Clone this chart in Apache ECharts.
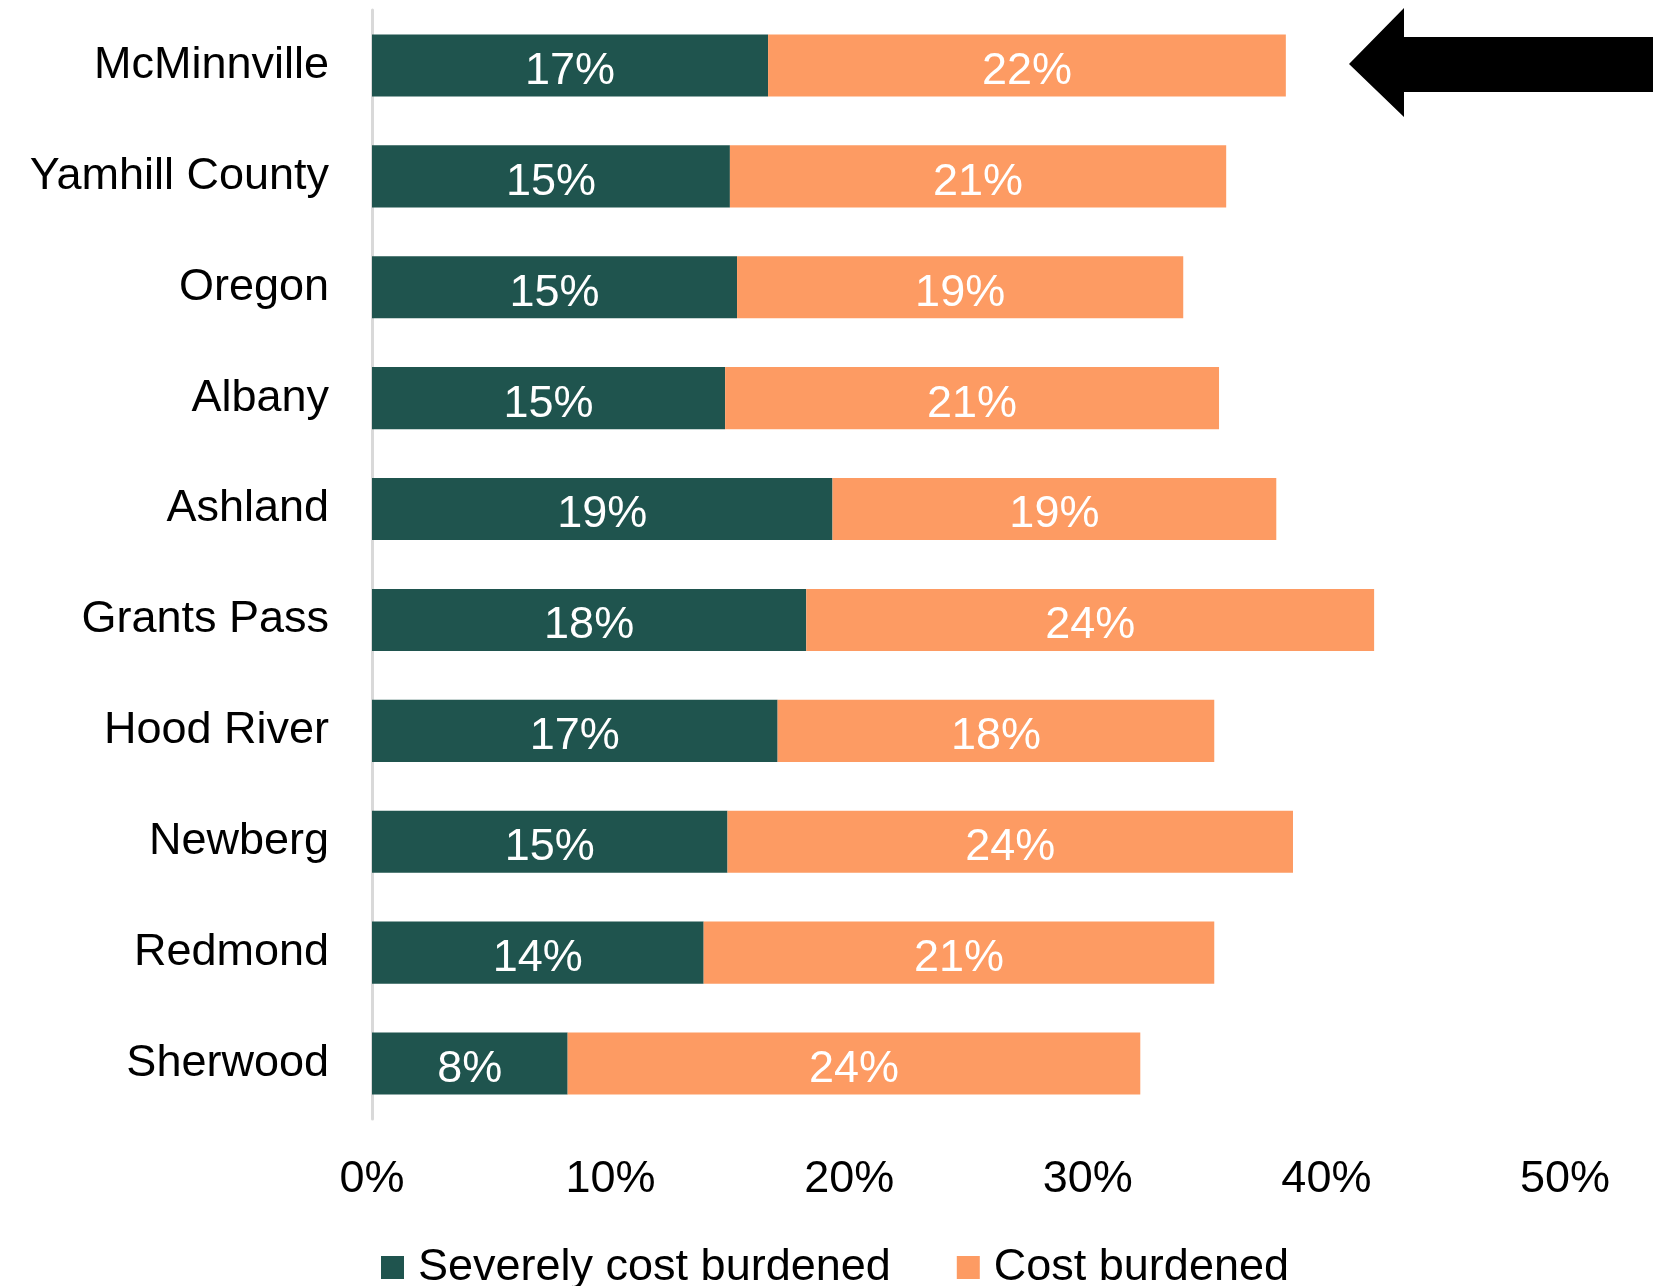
<!DOCTYPE html>
<html>
<head>
<meta charset="utf-8">
<title>Housing cost burden by place</title>
<script src="https://cdn.jsdelivr.net/npm/echarts@6/dist/echarts.min.js"></script>
<style>
  html, body { margin: 0; padding: 0; background: #ffffff; }
  #chart { width: 1653px; height: 1286px; }
</style>
</head>
<body>
<div id="chart"></div>
<script>
// Places, listed top to bottom
const places = ['McMinnville', 'Yamhill County', 'Oregon', 'Albany', 'Ashland',
                'Grants Pass', 'Hood River', 'Newberg', 'Redmond', 'Sherwood'];

// Share of households (percent)
const severelyBurdened = [16.6, 15.0, 15.3, 14.8, 19.3, 18.2, 17.0, 14.9, 13.9, 8.2];
const costBurdened     = [21.7, 20.8, 18.7, 20.7, 18.6, 23.8, 18.3, 23.7, 21.4, 24.0];

// Horizontal axis
const axisMin = 0, axisMax = 50, axisStep = 10;

const seriesNames = ['Severely cost burdened', 'Cost burdened'];
const seriesColors = ['#1F544E', '#FD9B63'];

const FONT = '"Liberation Sans", Arial, sans-serif';

const chart = echarts.init(document.getElementById('chart'), null, { renderer: 'canvas' });

const barLabel = {
  show: true,
  position: 'inside',
  color: '#ffffff',
  fontFamily: FONT,
  fontSize: 45,
  offset: [0, 6],
  formatter: p => Math.round(p.value) + '%'
};

chart.setOption({
  backgroundColor: '#ffffff',
  animation: false,
  textStyle: { fontFamily: FONT },
  grid: {
    left: 372,
    right: 88,
    top: 10,
    bottom: 167,
    outerBoundsMode: 'none',
    containLabel: false
  },
  legend: {
    left: 376,
    top: 1240,
    itemWidth: 23,
    itemHeight: 23,
    itemGap: 66,
    icon: 'rect',
    textStyle: { fontFamily: FONT, fontSize: 45, color: '#000000', padding: [0, 0, 0, 9] },
    data: seriesNames
  },
  xAxis: {
    type: 'value',
    min: axisMin,
    max: axisMax,
    interval: axisStep,
    axisLine: { show: false },
    axisTick: { show: false },
    splitLine: { show: false },
    axisLabel: {
      formatter: '{value}%',
      fontFamily: FONT,
      fontSize: 45,
      color: '#000000',
      margin: 38
    }
  },
  yAxis: {
    type: 'category',
    data: places,
    inverse: true,
    axisLine: { show: true, lineStyle: { color: '#d9d9d9', width: 3 } },
    axisTick: { show: false },
    axisLabel: {
      fontFamily: FONT,
      fontSize: 45,
      color: '#000000',
      margin: 43,
      padding: [4, 0, 0, 0]
    }
  },
  series: [
    {
      name: seriesNames[0],
      type: 'bar',
      stack: 'burden',
      data: severelyBurdened,
      barWidth: '56%',
      itemStyle: { color: seriesColors[0] },
      label: barLabel
    },
    {
      name: seriesNames[1],
      type: 'bar',
      stack: 'burden',
      data: costBurdened,
      barWidth: '56%',
      itemStyle: { color: seriesColors[1] },
      label: barLabel
    }
  ],
  graphic: [
    {
      // Pointer arrow beside the top row
      type: 'polygon',
      shape: {
        points: [[1349, 64], [1404, 8], [1404, 37], [1653, 37],
                 [1653, 92], [1404, 92], [1404, 117]]
      },
      style: { fill: '#000000' },
      z: 10
    }
  ]
});
</script>
</body>
</html>
